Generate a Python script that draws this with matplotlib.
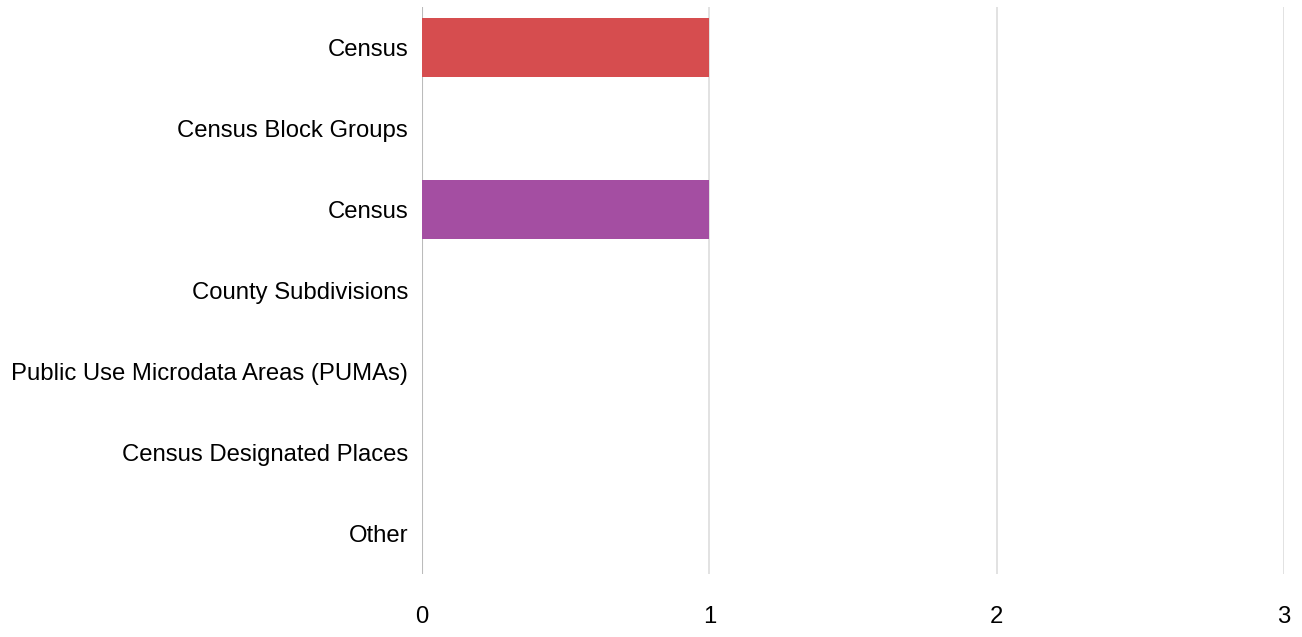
import matplotlib
matplotlib.use("Agg")
import matplotlib.pyplot as plt

categories = [
    "Census",
    "Census Block Groups",
    "Census",
    "County Subdivisions",
    "Public Use Microdata Areas (PUMAs)",
    "Census Designated Places",
    "Other",
]
values = [1, 0, 1, 0, 0, 0, 0]
colors = ["#d64d4f", "#a44ea2", "#a44ea2", "#a44ea2", "#a44ea2", "#a44ea2", "#a44ea2"]
xticks = [0, 1, 2, 3]

plt.rcParams["font.family"] = ["Liberation Sans", "DejaVu Sans"]

fig = plt.figure(figsize=(13.02, 6.37), dpi=100)
ax = fig.add_axes([422 / 1302, 1 - 574 / 637, (1284 - 422) / 1302, (574 - 7) / 637])

y = list(range(len(categories)))
ax.barh(y, values, height=0.74, color=colors, zorder=3)

ax.set_xlim(0, 3)
ax.set_ylim(len(categories) - 0.5, -0.5)
ax.set_yticks(y)
ax.set_yticklabels(categories, fontsize=17.2)
ax.set_xticks(xticks)
ax.set_xticklabels([str(t) for t in xticks], fontsize=17.2)
ax.tick_params(axis="y", length=0, pad=10)
ax.tick_params(axis="x", length=0, pad=23)

for t in xticks:
    ax.axvline(t, color="#bbbbbb" if t == 0 else "#dddddd", linewidth=1.5 if t == 0 else 1.2, zorder=1)

for s in ax.spines.values():
    s.set_visible(False)

fig.savefig("out.png", dpi=100)
